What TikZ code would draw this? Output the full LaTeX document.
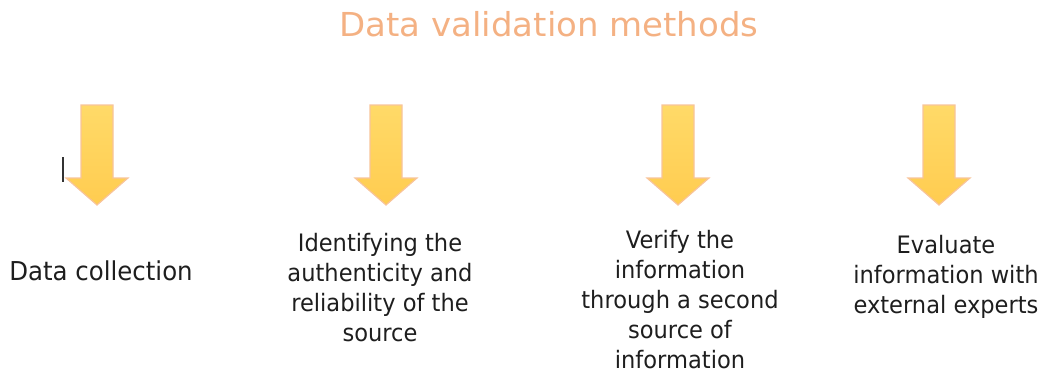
\documentclass[tikz,border=0pt]{standalone}
\usepackage{fontspec}
\setmainfont[FakeStretch=0.94]{DejaVu Sans}
\newfontfamily\titlefont[FakeStretch=1.03]{DejaVu Sans}
\definecolor{titlecol}{HTML}{F4B183}
\definecolor{arrowtop}{HTML}{FFDA68}
\definecolor{arrowbot}{HTML}{FFCC50}
\definecolor{arrowline}{HTML}{F8C49A}
\definecolor{textcol}{HTML}{1E1E1E}
\begin{document}
\begin{tikzpicture}[x=1pt,y=-1pt,
  downarrow/.style={top color=arrowtop,bottom color=arrowbot,draw=arrowline,line width=1.2pt,line join=miter},
  label/.style={align=center,inner sep=0pt,text=textcol,anchor=north,font=\fontsize{24}{30}\selectfont}]
\useasboundingbox (0,0) rectangle (1047,372);
\node[anchor=base,text=titlecol,font=\titlefont\fontsize{33}{38}\selectfont,inner sep=0pt] (title) at (549,36) {Data validation methods};
\foreach \cx/\nm in {97/a1,386/a2,678/a3,939/a4}{
  \draw[downarrow] (\cx-16,105) -- (\cx+16,105) -- (\cx+16,178) -- (\cx+31,178) -- (\cx,205) -- (\cx-31,178) -- (\cx-16,178) -- cycle;
}
\draw[line width=1.5pt,black!80] (63,157) -- (63,182);
\node[label,font=\fontsize{26}{30}\selectfont] (t1) at (101,261) {Data collection};
\node[label] (t2) at (380,233) {Identifying the\\authenticity and\\reliability of the\\source};
\node[label] (t3) at (680,230) {Verify the\\information\\through a second\\source of\\information};
\node[label] (t4) at (946,235) {Evaluate\\information with\\external experts};
\end{tikzpicture}
\end{document}
